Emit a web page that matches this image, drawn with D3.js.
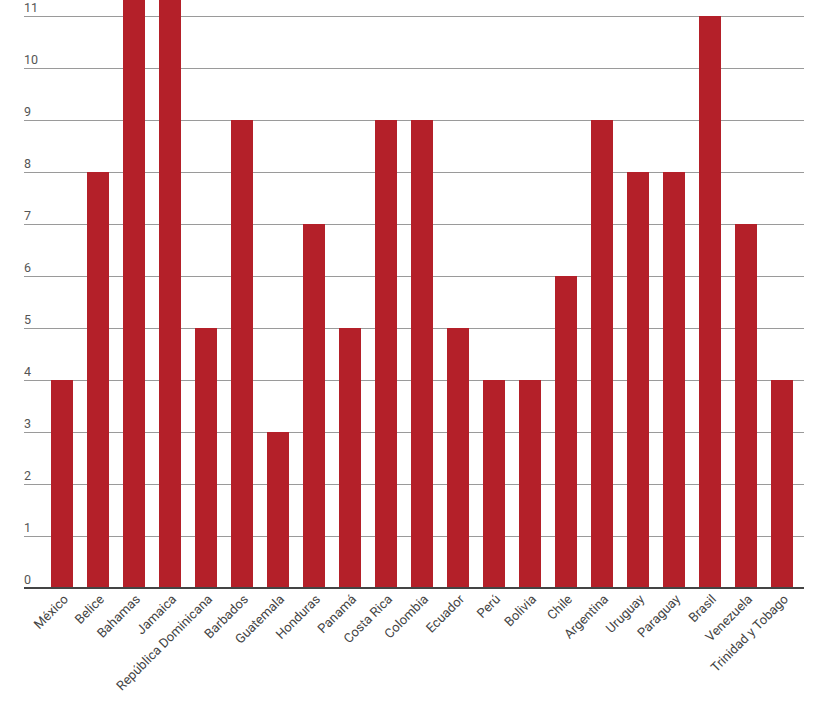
<!DOCTYPE html>
<html lang="es">
<head>
<meta charset="utf-8">
<script src="https://d3js.org/d3.v7.min.js"></script>
<style type="text/css">
body { margin: 0; background: #fff; }
.ylab { font: 12.5px Roboto, sans-serif; fill: #555; }
.grid line { stroke: #9a9a9a; stroke-width: 1; shape-rendering: crispEdges; }
.xlab { font: 13px Roboto, sans-serif; fill: #444; }
</style>
</head>
<body>
<div id="chart"></div>
<script type="text/javascript">

// countries and their values
var paises = ["México", "Belice", "Bahamas", "Jamaica", "República Dominicana", "Barbados",
  "Guatemala", "Honduras", "Panamá", "Costa Rica", "Colombia", "Ecuador", "Perú", "Bolivia",
  "Chile", "Argentina", "Uruguay", "Paraguay", "Brasil", "Venezuela", "Trinidad y Tobago"];
var valores = [4, 8, 12, 12, 5, 9, 3, 7, 5, 9, 9, 5, 4, 4, 6, 9, 8, 8, 11, 7, 4];
var yTicks = [0, 1, 2, 3, 4, 5, 6, 7, 8, 9, 10, 11];

var width = 826, height = 713;
var barColor = "#b42029";

var svg = d3.select("#chart")
  .append("svg")
  .attr("width", width)
  .attr("height", height);

var x = d3.scaleBand()
  .domain(paises)
  .range([44, 800])
  .paddingInner(14 / 36)
  .paddingOuter(7 / 36);

var y = d3.scaleLinear()
  .domain([0, 11])
  .range([588, 16]);

// gridlines
var grid = svg.append("g").attr("class", "grid");
grid.selectAll("line")
  .data(yTicks.filter(function(d) { return d > 0; }))
  .enter().append("line")
  .attr("x1", 24).attr("x2", 804)
  .attr("y1", function(d) { return y(d) + 0.5; })
  .attr("y2", function(d) { return y(d) + 0.5; });

// y labels sit above each line
svg.append("g").selectAll("text")
  .data(yTicks)
  .enter().append("text")
  .attr("class", "ylab")
  .attr("x", 24)
  .attr("y", function(d) { return y(d) - 4; })
  .text(function(d) { return d; });

// bars
svg.selectAll("rect.bar")
  .data(valores)
  .enter().append("rect")
  .attr("class", "bar")
  .attr("x", function(d, i) { return x(paises[i]); })
  .attr("width", x.bandwidth())
  .attr("y", function(d) { return y(d); })
  .attr("height", function(d) { return y(0) - y(d); })
  .style("fill", barColor);

// baseline
svg.append("line")
  .attr("x1", 24).attr("x2", 804)
  .attr("y1", y(0)).attr("y2", y(0))
  .style("stroke", "#444")
  .style("stroke-width", 2);

// category labels, rotated
svg.append("g").selectAll("text")
  .data(paises)
  .enter().append("text")
  .attr("class", "xlab")
  .attr("text-anchor", "end")
  .attr("transform", function(d) {
    return "translate(" + (x(d) + x.bandwidth() / 2 + 7) + "," + 600 + ") rotate(-45)";
  })
  .text(function(d) { return d; });

</script>
</body>
</html>
